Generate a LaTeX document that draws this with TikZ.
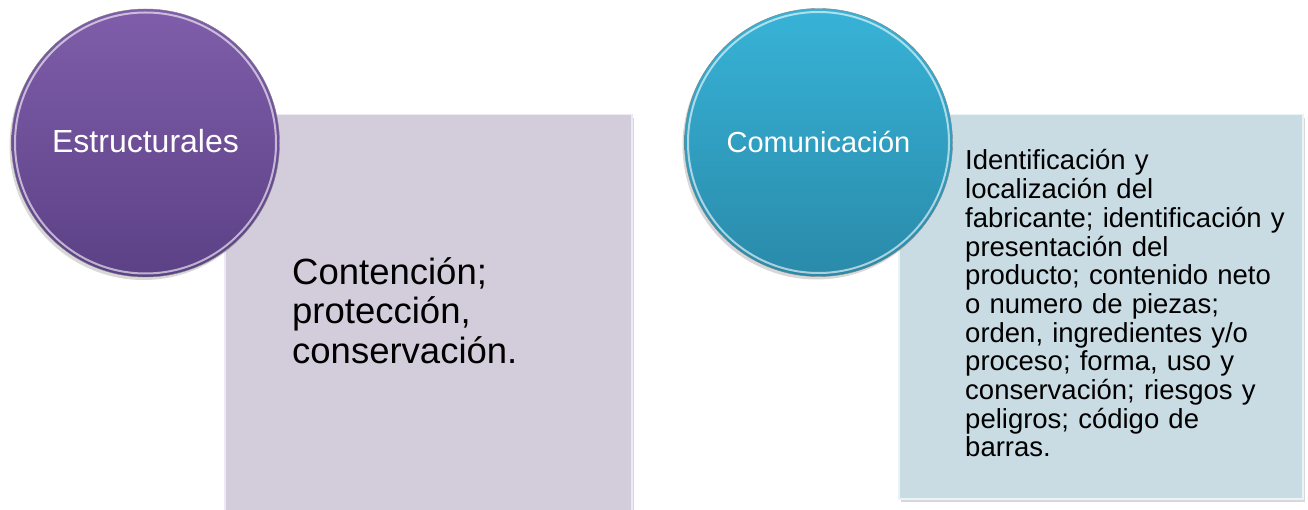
\documentclass[tikz,border=0pt]{standalone}
\usepackage{fontspec}
\setmainfont{Liberation Sans}
\usetikzlibrary{shadows}
\definecolor{purpT}{HTML}{7F5DAA}
\definecolor{purpB}{HTML}{5C4186}
\definecolor{cyanT}{HTML}{37B3D7}
\definecolor{cyanB}{HTML}{2A8AAA}
\definecolor{panelP}{HTML}{D3CDDB}
\definecolor{panelC}{HTML}{C9DBE3}
\definecolor{rimP}{HTML}{EEEAF3}
\definecolor{rimC}{HTML}{EAF3F6}
\begin{document}
\begin{tikzpicture}[x=1pt,y=-1pt,
  panel/.style={rectangle, inner sep=0pt, line width=1.5pt, anchor=north west,
    drop shadow={opacity=0.3, shadow xshift=2pt, shadow yshift=-3pt}},
  bubble/.style={circle, inner sep=0pt, minimum size=268pt, text=white,
    draw=black!50, line width=0.4pt, text height=20pt, text depth=0pt,
    drop shadow={opacity=0.3, shadow xshift=-2pt, shadow yshift=-3pt}},
  rim/.style={white, opacity=0.6, line width=2pt},
  bodytext/.style={anchor=base west, inner sep=0pt, align=left, text=black}
]
\useasboundingbox[fill=white] (0,0) rectangle (1308,510);

% left group
\node[panel, fill=panelP, draw=rimP, minimum width=407pt, minimum height=405pt] (p1) at (224,114) {};
\node[bubble, top color=purpT, bottom color=purpB, font=\fontsize{32}{32}\selectfont] (c1) at (145.5,143) {Estructurales};
\draw[rim] (c1.center) circle (130.5pt);
\node[bodytext, text width=320pt, font=\fontsize{36.5}{39}\selectfont] (t1) at (292,285) {Contención;\\protección,\\conservación.};

% right group
\node[panel, fill=panelC, draw=rimC, minimum width=404pt, minimum height=384pt] (p2) at (898,114) {};
\node[bubble, top color=cyanT, bottom color=cyanB, font=\fontsize{29}{29}\selectfont] (c2) at (818.5,142.5) {Comunicación};
\draw[rim] (c2.center) circle (130.5pt);
\node[bodytext, text width=330pt, font=\fontsize{27.5}{28.7}\selectfont] (t2) at (965,170) {Identificación y\\localización del\\fabricante; identificación y\\presentación del\\producto; contenido neto\\o numero de piezas;\\orden, ingredientes y/o\\proceso; forma, uso y\\conservación; riesgos y\\peligros; código de\\barras.};
\end{tikzpicture}
\end{document}
